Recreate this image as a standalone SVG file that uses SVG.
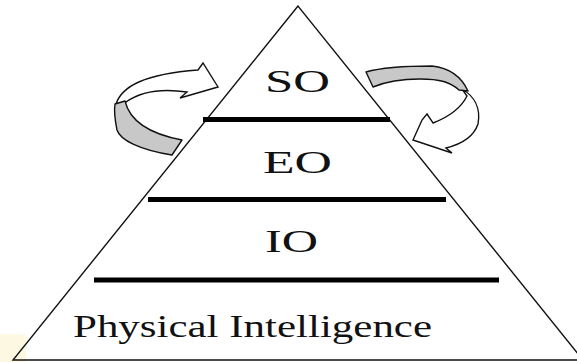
<svg xmlns="http://www.w3.org/2000/svg" width="577" height="362" viewBox="0 0 577 362">
<style>
.outline{fill:none;stroke:#111;stroke-width:1.4;stroke-linejoin:miter}
.bar{stroke:#000;stroke-width:5;stroke-linecap:butt}
.lbl{font-family:"Liberation Serif","DejaVu Serif",serif;font-size:31px;fill:#111}
.band{fill:#c8c8c8;stroke:#111;stroke-width:1.4;stroke-linejoin:round}
.arr{fill:#fff;stroke:#111;stroke-width:1.4;stroke-linejoin:miter}
</style>
<rect width="577" height="362" fill="#fff"/>
<rect x="0" y="334" width="26" height="28" fill="#fdf8e2"/>
<g id="pyramid">
<polygon class="outline" points="298,6 13,360 583,360" fill="#fff"/>
</g>
<g id="levels">
<line class="bar" x1="203" y1="119.5" x2="390" y2="119.5"/>
<line class="bar" x1="148" y1="199.5" x2="446" y2="199.5"/>
<line class="bar" x1="94" y1="280" x2="499" y2="280"/>
</g>
<g id="node-so"><text class="lbl" x="265" y="92" textLength="65" lengthAdjust="spacingAndGlyphs">SO</text></g>
<g id="node-eo"><text class="lbl" x="263" y="173" textLength="69" lengthAdjust="spacingAndGlyphs">EO</text></g>
<g id="node-io"><text class="lbl" x="265" y="252" textLength="53" lengthAdjust="spacingAndGlyphs">IO</text></g>
<g id="node-pi"><text class="lbl" x="73" y="337" textLength="359" lengthAdjust="spacingAndGlyphs">Physical Intelligence</text></g>
<g id="connectors">
<g id="arrow-left">
<path class="arr" d="M116,104 C122,86 145,74 198,70 L203,63 L218,87 L180,98 L187,92 C160,88 140,92 126,102 Z"/>
<path class="band" d="M115,104 L125,101 C130,122 150,134 182,140 L172,155 C140,150 120,140 117,130 C115,120 114,110 115,104 Z"/>
</g>
<g id="arrow-right">
<path class="arr" d="M462,89 C474,96 481,108 478,124 C474,136 462,144 446,148 L452,153 L413,140 L422,120 L427,114 L433,123 C446,118 460,110 467,96 Z"/>
<path class="band" d="M366,72 C380,68 400,66 432,66 C450,68 462,78 468,91 L459,90 C450,82 440,79 420,79 C400,79 385,82 373,87 Z"/>
</g>
</g>
</svg>
